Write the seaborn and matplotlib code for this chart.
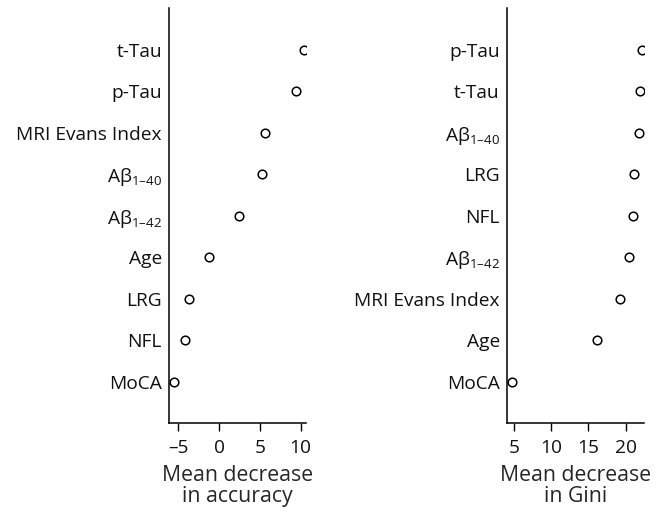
import matplotlib
matplotlib.use("Agg")
import matplotlib.pyplot as plt
import seaborn as sns
import pandas as pd

# Variable importance from the random forest
acc_features = ["t-Tau", "p-Tau", "MRI Evans Index", "Aβ1-40", "Aβ1-42",
                "Age", "LRG", "NFL", "MoCA"]
acc_values = [10.45, 9.4, 5.6, 5.3, 2.4, -1.2, -3.7, -4.2, -5.5]

gini_features = ["p-Tau", "t-Tau", "Aβ1-40", "LRG", "NFL", "Aβ1-42",
                 "MRI Evans Index", "Age", "MoCA"]
gini_values = [22.25, 21.9, 21.8, 21.1, 21.0, 20.5, 19.2, 16.1, 4.65]

acc_ticks = [-5, 0, 5, 10]
gini_ticks = [5, 10, 15, 20]


def pretty(name):
    # A-beta labels get a subscript
    if name.startswith("Aβ"):
        return r"$\mathregular{A\beta_{" + name[2:].replace("-", "\u2013") + "}}$"
    return name


sns.set_style("white")
plt.rcParams["font.family"] = ["Open Sans", "DejaVu Sans"]
plt.rcParams["mathtext.fontset"] = "custom"
plt.rcParams["mathtext.rm"] = "Open Sans"
plt.rcParams["mathtext.it"] = "Open Sans"
plt.rcParams["text.color"] = "#111111"
plt.rcParams["xtick.color"] = "#111111"
plt.rcParams["ytick.color"] = "#111111"

fig = plt.figure(figsize=(6.65, 5.13), dpi=100)
ax1 = fig.add_axes([0.254, 0.1754, 0.2056, 0.809])
ax2 = fig.add_axes([0.762, 0.1754, 0.2065, 0.809])

panels = [
    (ax1, acc_features, acc_values, acc_ticks, (-6.14, 10.6), "Mean decrease\nin accuracy"),
    (ax2, gini_features, gini_values, gini_ticks, (3.97, 22.5), "Mean decrease\nin Gini"),
]

for ax, feats, vals, ticks, xlim, xlabel in panels:
    df = pd.DataFrame({"feature": [pretty(f) for f in feats], "value": vals})
    sns.stripplot(data=df, x="value", y="feature", jitter=False, ax=ax,
                  color="white", edgecolor="black", linewidth=1.1, size=6.2)
    ax.set_ylim(len(feats), -1)
    ax.set_xlim(*xlim)
    ax.set_xticks(ticks)
    ax.set_xticklabels([str(t).replace("-", "\u2013") for t in ticks])
    ax.set_ylabel("")
    ax.set_xlabel(xlabel, linespacing=1.0, labelpad=6, fontsize=15.3)
    sns.despine(ax=ax)
    for s in ["left", "bottom"]:
        ax.spines[s].set_color("black")
        ax.spines[s].set_linewidth(1.1)
    ax.tick_params(axis="x", length=6, width=1.0, color="black", pad=5.5,
                   bottom=True, labelsize=13.8)
    ax.tick_params(axis="y", length=0, pad=5, labelsize=13.8)

fig.savefig("out.png", dpi=100)
